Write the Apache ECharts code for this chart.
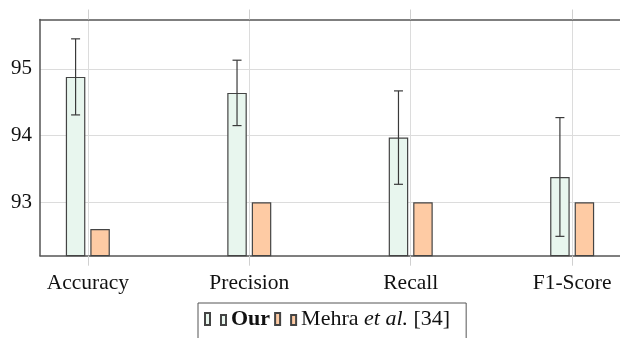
<!DOCTYPE html>
<html>
<head>
<meta charset="utf-8">
<script src="https://cdn.jsdelivr.net/npm/echarts@6/dist/echarts.min.js"></script>
<style>html,body{margin:0;padding:0;background:#fff}#c{width:620px;height:338px}</style>
</head>
<body>
<div id="c"></div>
<script>
const categories = ['Accuracy', 'Precision', 'Recall', 'F1-Score'];
const ourValues = [94.88, 94.64, 93.97, 93.38];
const ourErrors = [0.57, 0.49, 0.70, 0.89];
const mehraValues = [92.6, 93.0, 93.0, 93.0];
const yTicks = [93, 94, 95];
const seriesNames = ['Our', 'Mehra et al. [34]'];

const catIdx = categories.map((c, i) => i);
const FONT = 'Liberation Serif';
const BAR_W = 19.5;
const BAR_GAP_PX = 5;
const ourOffset = -(BAR_W + BAR_GAP_PX) / 2;

const chart = echarts.init(document.getElementById('c'), null, {renderer: 'canvas'});

const xCommon = {
  type: 'value', min: -0.2963, max: 3.2963,
  splitLine: {show: false}
};

chart.setOption({
  animation: false,
  backgroundColor: '#fff',
  grid: {left: 40, right: -2, top: 19.5, bottom: 82.3, containLabel: false},
  xAxis: [
    Object.assign({}, xCommon, {
      position: 'bottom',
      axisLine: {show: true, onZero: false, lineStyle: {color: '#555', width: 1.5}},
      axisTick: {show: true, customValues: catIdx, inside: false, length: 10, lineStyle: {color: '#d0d0d0', width: 1}},
      axisLabel: {show: true, customValues: catIdx, formatter: v => categories[Math.round(v)] || '',
        fontFamily: FONT, fontSize: 21.5, color: '#111', margin: 17},
      splitLine: {show: true, lineStyle: {color: '#dcdcdc', width: 1}}
    }),
    Object.assign({}, xCommon, {
      position: 'top',
      axisLine: {show: true, onZero: false, lineStyle: {color: '#555', width: 1.5}},
      axisTick: {show: true, customValues: catIdx, inside: false, length: 10, lineStyle: {color: '#d0d0d0', width: 1}},
      axisLabel: {show: false}
    })
  ],
  yAxis: {
    type: 'value', min: 92.2, max: 95.74,
    axisLine: {show: true, onZero: false, lineStyle: {color: '#555', width: 1.5}},
    axisTick: {show: false, customValues: yTicks},
    axisLabel: {
      customValues: yTicks,
      formatter: v => String(v),
      fontFamily: FONT, fontSize: 21, color: '#111', margin: 8
    },
    splitLine: {show: true, lineStyle: {color: '#dcdcdc', width: 1}}
  },
  legend: {
    left: 198, top: 303,
    orient: 'horizontal',
    borderColor: '#555', borderWidth: 1,
    padding: [5, 16, 14, 6],
    itemGap: 4,
    itemWidth: 21, itemHeight: 12,
    icon: 'path://M0,0h5v12h-5z M16,2h5v10h-5z',
    data: seriesNames,
    formatter: name => name === 'Our' ? '{b|Our}' : '{n|Mehra }{i|et al.}{n| [34]}',
    textStyle: {
      fontFamily: FONT, fontSize: 22, color: '#111',
      rich: {
        b: {fontFamily: FONT, fontSize: 22, fontWeight: 'bold', color: '#111'},
        n: {fontFamily: FONT, fontSize: 22, color: '#111'},
        i: {fontFamily: FONT, fontSize: 22, fontStyle: 'italic', color: '#111'}
      }
    }
  },
  series: [
    {
      name: seriesNames[0], type: 'bar', xAxisIndex: 0,
      barWidth: BAR_W, barGap: (BAR_GAP_PX / BAR_W * 100).toFixed(1) + '%',
      itemStyle: {color: '#e8f6ee', borderColor: '#444', borderWidth: 1.2},
      data: ourValues.map((v, i) => [catIdx[i], v]),
      z: 3
    },
    {
      name: seriesNames[1], type: 'bar', xAxisIndex: 0,
      barWidth: BAR_W,
      itemStyle: {color: '#fecba4', borderColor: '#444', borderWidth: 1.2},
      data: mehraValues.map((v, i) => [catIdx[i], v]),
      z: 3
    },
    {
      name: 'err', type: 'custom', xAxisIndex: 0,
      data: ourValues.map((v, i) => [catIdx[i], v - ourErrors[i], v + ourErrors[i]]),
      renderItem: (params, api) => {
        const lo = api.coord([api.value(0), api.value(1)]);
        const hi = api.coord([api.value(0), api.value(2)]);
        const x = lo[0] + ourOffset;
        const cap = 4.5;
        const st = {stroke: '#3a3a3a', lineWidth: 1.2};
        return {type: 'group', children: [
          {type: 'line', shape: {x1: x, y1: lo[1], x2: x, y2: hi[1]}, style: st},
          {type: 'line', shape: {x1: x - cap, y1: lo[1], x2: x + cap, y2: lo[1]}, style: st},
          {type: 'line', shape: {x1: x - cap, y1: hi[1], x2: x + cap, y2: hi[1]}, style: st}
        ]};
      },
      z: 5
    }
  ]
});
</script>
</body>
</html>
